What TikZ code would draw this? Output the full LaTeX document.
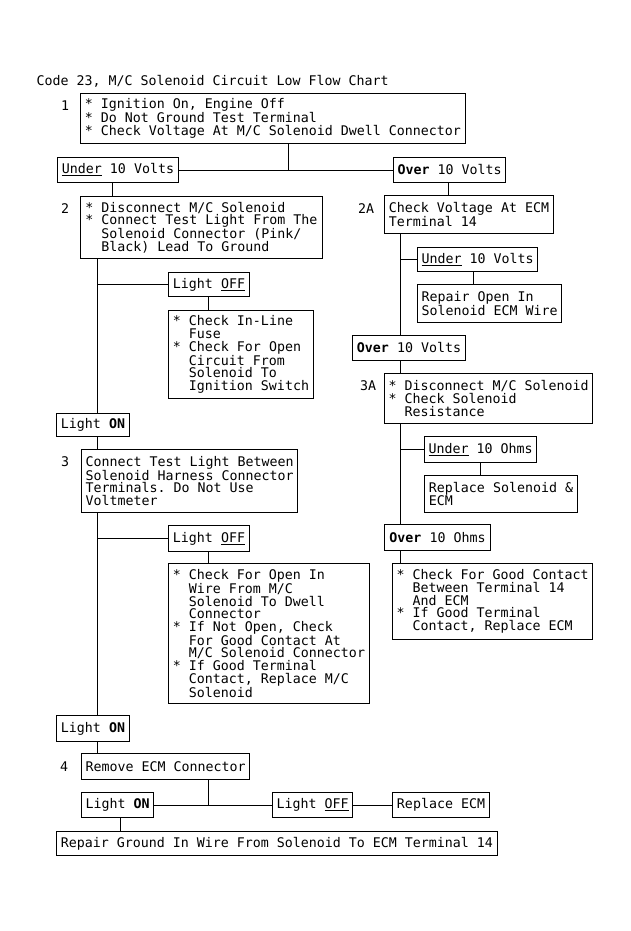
\documentclass[tikz,border=0pt]{standalone}
\usepackage{fontspec}
\setmonofont{DejaVu Sans Mono}
\newcommand{\hangsp}{\hspace*{16pt}}
\tikzset{
    chart/.style={font=\ttfamily\fontsize{13.29pt}{12.6pt}\selectfont},
    box/.style={draw, anchor=north west, align=left, inner xsep=4pt, inner ysep=1pt},
    num/.style={inner sep=0pt}
}
\begin{document}
\begin{tikzpicture}[x=1pt, y=-1pt, line width=1pt, chart]
    \useasboundingbox (0,0) rectangle (631,931);

    % Title
    \node[anchor=base west, inner sep=0pt] (title) at (36,86) {Code 23, M/C Solenoid Circuit Low Flow Chart};

    % Step numbers
    \node[num] (n1) at (65,106) {1};
    \node[num] (n2) at (65,209) {2};
    \node[num] (n2a) at (366,209) {2A};
    \node[num] (n3a) at (368,386) {3A};
    \node[num] (n3) at (65,462) {3};
    \node[num] (n4) at (64,767) {4};

    % Step 1
    \node[box, minimum width=385, minimum height=50] (s1) at (80,93) {{*} Ignition On, Engine Off\\{*} Do Not Ground Test Terminal\\{*} Check Voltage At M/C Solenoid Dwell Connector};
    \node[box, minimum width=121, minimum height=25] (u1) at (57,157) {\underline{Under} 10 Volts};
    \node[box, minimum width=111, minimum height=25] (o1) at (393,157) {\textbf{Over} 10 Volts};

    % Left column
    \node[box, minimum width=242, minimum height=62] (s2) at (80,196) {{*} Disconnect M/C Solenoid\\{*} Connect Test Light From The\\\hangsp Solenoid Connector (Pink/\\\hangsp Black) Lead To Ground};
    \node[box, minimum width=81, minimum height=24] (f1) at (168,272) {Light \underline{OFF}};
    \node[box, minimum width=145, minimum height=88] (c1) at (168,310) {{*} Check In-Line\\\hangsp Fuse\\{*} Check For Open\\\hangsp Circuit From\\\hangsp Solenoid To\\\hangsp Ignition Switch};
    \node[box, minimum width=73, minimum height=23] (on1) at (56,413) {Light \textbf{ON}};
    \node[box, minimum width=216, minimum height=63] (s3) at (81,449) {Connect Test Light Between\\Solenoid Harness Connector\\Terminals. Do Not Use\\Voltmeter};
    \node[box, minimum width=81, minimum height=26] (f2) at (168,525) {Light \underline{OFF}};
    \node[box, minimum width=201, minimum height=140] (c2) at (168,563) {{*} Check For Open In\\\hangsp Wire From M/C\\\hangsp Solenoid To Dwell\\\hangsp Connector\\{*} If Not Open, Check\\\hangsp For Good Contact At\\\hangsp M/C Solenoid Connector\\{*} If Good Terminal\\\hangsp Contact, Replace M/C\\\hangsp Solenoid};
    \node[box, minimum width=73, minimum height=26] (on2) at (56,715) {Light \textbf{ON}};
    \node[box, minimum width=168, minimum height=26] (s4) at (81,753) {Remove ECM Connector};
    \node[box, minimum width=72, minimum height=25] (on3) at (81,792) {Light \textbf{ON}};
    \node[box, minimum width=80, minimum height=25] (f3) at (272,792) {Light \underline{OFF}};
    \node[box, minimum width=97, minimum height=25] (e4) at (392,792) {Replace ECM};
    \node[box, minimum width=441, minimum height=24] (g4) at (56,831) {Repair Ground In Wire From Solenoid To ECM Terminal 14};

    % Right column
    \node[box, minimum width=169, minimum height=38] (s2a) at (384,195) {Check Voltage At ECM\\Terminal 14};
    \node[box, minimum width=120, minimum height=24] (u2) at (417,247) {\underline{Under} 10 Volts};
    \node[box, minimum width=144, minimum height=38] (r2) at (417,284) {Repair Open In\\Solenoid ECM Wire};
    \node[box, minimum width=113, minimum height=25] (o2) at (352,335) {\textbf{Over} 10 Volts};
    \node[box, minimum width=208, minimum height=50] (s3a) at (384,373) {{*} Disconnect M/C Solenoid\\{*} Check Solenoid\\\hangsp Resistance};
    \node[box, minimum width=112, minimum height=26] (u3) at (424,436) {\underline{Under} 10 Ohms};
    \node[box, minimum width=153, minimum height=37] (r3) at (424,475) {Replace Solenoid \&\\ECM};
    \node[box, minimum width=106, minimum height=26] (o3) at (384,524) {\textbf{Over} 10 Ohms};
    \node[box, minimum width=200, minimum height=76] (r4) at (392,563) {{*} Check For Good Contact\\\hangsp Between Terminal 14\\\hangsp And ECM\\{*} If Good Terminal\\\hangsp Contact, Replace ECM};

    % Line columns
    \coordinate (cA) at (288,0);
    \coordinate (cB) at (112,0);
    \coordinate (cC) at (448,0);
    \coordinate (cD) at (400,0);
    \coordinate (cE) at (473,0);
    \coordinate (cF) at (480,0);
    \coordinate (cG) at (97,0);
    \coordinate (cH) at (208,0);
    \coordinate (cI) at (120,0);

    % Connectors, step 1
    \draw (s1.south -| cA) -- (u1.east -| cA);
    \draw (u1.east) -- (o1.west);
    \draw (u1.south -| cB) -- (s2.north -| cB);
    \draw (o1.south -| cC) -- (s2a.north -| cC);

    % Connectors, left
    \draw (s2.south -| cG) -- (on1.north -| cG);
    \draw (f1.west -| cG) -- (f1.west);
    \draw (f1.south -| cH) -- (c1.north -| cH);
    \draw (on1.south -| cG) -- (s3.north -| cG);
    \draw (s3.south -| cG) -- (on2.north -| cG);
    \draw (f2.west -| cG) -- (f2.west);
    \draw (f2.south -| cH) -- (c2.north -| cH);
    \draw (on2.south -| cG) -- (s4.north -| cG);
    \draw (s4.south -| cH) -- (on3.east -| cH);
    \draw (on3.east) -- (f3.west);
    \draw (f3.east) -- (e4.west);
    \draw (on3.south -| cI) -- (g4.north -| cI);

    % Connectors, right
    \draw (s2a.south -| cD) -- (o2.north -| cD);
    \draw (u2.west -| cD) -- (u2.west);
    \draw (u2.south -| cE) -- (r2.north -| cE);
    \draw (o2.south -| cD) -- (s3a.north -| cD);
    \draw (s3a.south -| cD) -- (o3.north -| cD);
    \draw (u3.west -| cD) -- (u3.west);
    \draw (u3.south -| cF) -- (r3.north -| cF);
    \draw (o3.south -| cD) -- (r4.north -| cD);
\end{tikzpicture}
\end{document}
